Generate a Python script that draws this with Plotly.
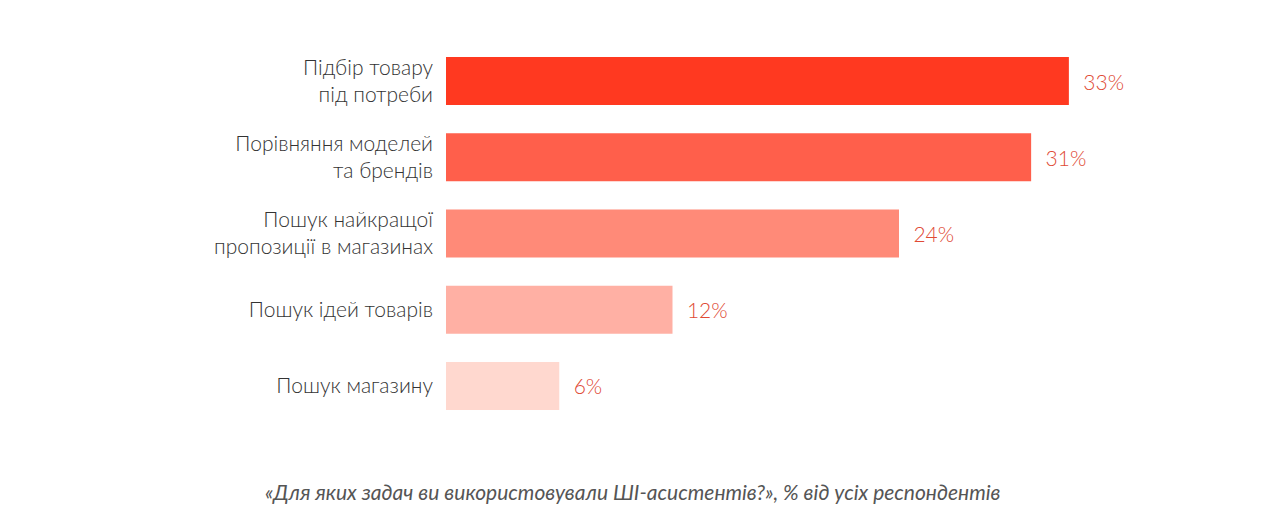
import plotly.graph_objects as go

categories = ["Підбір товару<br>під потреби", "Порівняння моделей<br>та брендів",
              "Пошук найкращої<br>пропозиції в магазинах", "Пошук ідей товарів", "Пошук магазину"]
values = [33, 31, 24, 12, 6]
colors = ["#FF3920", "#FF5F4B", "#FF8A78", "#FFB0A4", "#FFD8CF"]

fig = go.Figure(go.Bar(
    y=categories, x=values, orientation="h",
    marker=dict(color=colors, line_width=0),
    text=[f"  {v}%" for v in values], textposition="outside",
    textfont=dict(color="#E04A35", size=21, family="Lato", weight=300),
    width=0.63, cliponaxis=False,
))
fig.update_layout(
    width=1280, height=524, plot_bgcolor="white", paper_bgcolor="white",
    margin=dict(l=438, r=87, t=35, b=108),
    xaxis=dict(range=[0, 40], visible=False),
    yaxis=dict(autorange="reversed", showgrid=False, ticks="", ticklabelstandoff=12,
               tickfont=dict(size=21, color="#333333", family="Lato", weight=300)),
    showlegend=False, bargap=0.37,
    annotations=[dict(text="<i>«Для яких задач ви використовували ШІ-асистентів?», % від усіх респондентів</i>",
                      xref="x domain", x=(625 - 438) / 755, xanchor="center",
                      yref="paper", y=-(483 - 416) / 381, yanchor="middle",
                      showarrow=False, font=dict(size=21, color="#555555", family="Lato"))],
)
fig.write_html("out.html")
